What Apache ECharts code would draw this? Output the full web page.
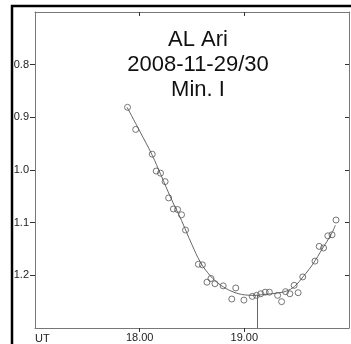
<!DOCTYPE html>
<html><head><meta charset="utf-8">
<script src="https://cdn.jsdelivr.net/npm/echarts@6/dist/echarts.min.js"></script>
<style>html,body{margin:0;padding:0;background:#fff}#c{width:351px;height:344px}</style>
</head><body><div id="c"></div>
<script>
const titleLines = ['AL Ari', '2008-11-29/30', 'Min. I'];
const xTicks = [18, 19];
const yTicks = [0.8, 0.9, 1.0, 1.1, 1.2];
const obsTime = [17.884,17.962,18.120,18.158,18.199,18.243,18.277,18.322,18.362,18.400,18.438,18.561,18.599,18.681,18.643,18.719,18.798,18.880,18.918,18.996,19.076,19.116,19.157,19.199,19.239,19.318,19.356,19.394,19.435,19.476,19.514,19.558,19.675,19.715,19.757,19.798,19.838,19.876];
const obsMag = [0.881,0.923,0.970,1.002,1.006,1.022,1.053,1.074,1.075,1.085,1.114,1.179,1.180,1.206,1.213,1.216,1.220,1.245,1.224,1.247,1.240,1.238,1.235,1.232,1.232,1.238,1.250,1.231,1.235,1.219,1.233,1.203,1.173,1.145,1.148,1.125,1.123,1.095];
const fitTime = [17.88,18.00,18.12,18.20,18.30,18.40,18.50,18.58,18.65,18.72,18.80,18.90,19.00,19.10,19.20,19.30,19.40,19.48,19.56,19.65,19.75,19.83,19.87];
const fitMag = [0.881,0.926,0.972,1.008,1.054,1.096,1.142,1.175,1.195,1.210,1.222,1.232,1.237,1.238,1.236,1.234,1.230,1.221,1.203,1.180,1.148,1.122,1.105];
const minTime = 19.12, minMag = 1.237;

const chart = echarts.init(document.getElementById('c'), null, {renderer: 'canvas'});
const font = 'Liberation Sans, Arial, sans-serif';
const axisLineStyle = {color: '#777', width: 1};
const tickStyle = {color: '#333', width: 1};
chart.setOption({
  animation: false,
  backgroundColor: '#fff',
  grid: {left: 35, right: 2, top: 12, bottom: 15, containLabel: false},
  title: {
    text: titleLines.join('\n'),
    left: 193, top: 22, textAlign: 'center',
    textStyle: {fontFamily: font, fontSize: 22, fontWeight: 'normal', color: '#111', lineHeight: 25}
  },
  xAxis: [{
    type: 'value', min: 17, max: 20, interval: 1, position: 'bottom',
    name: 'UT', nameLocation: 'start', nameGap: 0,
    nameTextStyle: {align: 'left', verticalAlign: 'top', padding: [5, 0, 0, 0], fontFamily: font, fontSize: 11, color: '#222'},
    axisLine: {show: true, lineStyle: axisLineStyle},
    axisTick: {show: true, inside: false, length: 4, lineStyle: tickStyle, customValues: xTicks},
    axisLabel: {show: true, customValues: xTicks, formatter: v => v.toFixed(2), fontFamily: font, fontSize: 11, color: '#222', margin: 4},
    splitLine: {show: false}
  }, {
    type: 'value', min: 17, max: 20, interval: 1, position: 'top',
    axisLine: {show: true, lineStyle: axisLineStyle},
    axisTick: {show: true, inside: true, length: 4, lineStyle: tickStyle, customValues: xTicks},
    axisLabel: {show: false}, splitLine: {show: false}
  }],
  yAxis: [{
    type: 'value', min: 0.7, max: 1.3, interval: 0.1, inverse: true, position: 'left',
    axisLine: {show: true, lineStyle: axisLineStyle},
    axisTick: {show: true, inside: false, length: 5, lineStyle: tickStyle, customValues: yTicks},
    axisLabel: {show: true, customValues: yTicks, formatter: v => v.toFixed(1), fontFamily: font, fontSize: 11, color: '#222', margin: 6},
    splitLine: {show: false}
  }, {
    type: 'value', min: 0.7, max: 1.3, interval: 0.1, inverse: true, position: 'right',
    axisLine: {show: true, lineStyle: axisLineStyle},
    axisTick: {show: true, inside: true, length: 4, lineStyle: tickStyle, customValues: yTicks},
    axisLabel: {show: false}, splitLine: {show: false}
  }],
  graphic: [{
    type: 'rect', z: 100, silent: true,
    shape: {x: 12, y: 6, width: 420, height: 420},
    style: {fill: 'none', stroke: '#000', lineWidth: 2.5}
  }],
  series: [{
    type: 'line', xAxisIndex: 0, yAxisIndex: 0, z: 1,
    data: fitTime.map((t, i) => [t, fitMag[i]]),
    smooth: 0.4, showSymbol: false,
    lineStyle: {color: '#666', width: 1},
    markLine: {
      silent: true, symbol: 'none', label: {show: false},
      lineStyle: {color: '#666', width: 1, type: 'solid'},
      data: [[{coord: [minTime, minMag]}, {coord: [minTime, 1.3]}]]
    }
  }, {
    type: 'scatter', xAxisIndex: 0, yAxisIndex: 0, z: 2,
    data: obsTime.map((t, i) => [t, obsMag[i]]),
    symbol: 'circle', symbolSize: 6,
    itemStyle: {color: 'rgba(0,0,0,0)', borderColor: '#555', borderWidth: 1}
  }]
});
</script></body></html>
